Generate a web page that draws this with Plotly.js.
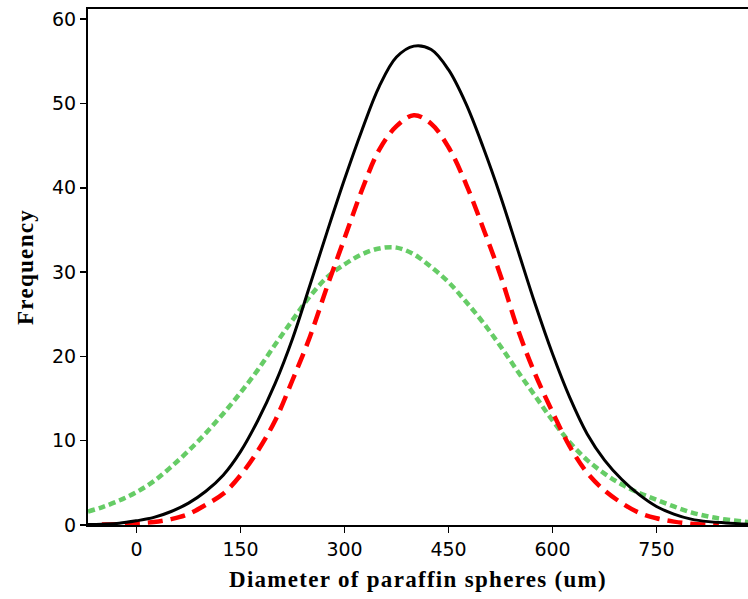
<!DOCTYPE html>
<html>
<head>
<meta charset="utf-8">
<script src="https://cdn.plot.ly/plotly-3.0.1.min.js"></script>
<style>
html,body{margin:0;padding:0;background:#fff;}
#chart{width:748px;height:599px;}
.xtitle,.ytitle{letter-spacing:1.3px;}
</style>
</head>
<body>
<div id="chart"></div>
<script>
// Diameter of paraffin spheres (um)
var diameter = [-70, -50, -25, 0, 25, 50, 75, 100, 125, 150, 175, 200, 225, 250, 275, 300, 325, 350, 375, 400, 425, 450, 475, 500, 525, 550, 575, 600, 625, 650, 675, 700, 725, 750, 775, 800, 825, 850, 882];

// Black solid curve
var freqBlack = [0.05, 0.1, 0.2, 0.5, 0.9, 1.6, 2.6, 4.0, 5.9, 8.7, 12.4, 16.8, 22.1, 28.4, 34.8, 41.0, 46.8, 52.0, 55.5, 56.8, 56.4, 54.0, 50.0, 44.8, 39.0, 32.6, 26.2, 20.3, 15.1, 10.8, 7.7, 5.4, 3.6, 2.2, 1.3, 0.7, 0.4, 0.25, 0.1];

// Red dashed curve
var diameterRed = [-50, -25, 0, 25, 50, 75, 100, 125, 150, 175, 200, 225, 250, 275, 300, 325, 350, 375, 400, 425, 450, 475, 500, 525, 550, 575, 600, 625, 650, 675, 700, 725, 750, 775, 800, 825, 840];
var freqRed = [0.05, 0.1, 0.2, 0.35, 0.7, 1.3, 2.4, 3.7, 5.9, 8.8, 12.4, 17.2, 22.3, 28.3, 34.0, 39.7, 44.5, 47.3, 48.6, 47.6, 44.8, 40.5, 35.2, 29.6, 23.2, 17.9, 13.4, 9.3, 6.2, 4.1, 2.6, 1.45, 0.8, 0.4, 0.15, 0.05, 0.02];

// Green dotted curve
var freqGreen = [1.6, 2.1, 2.9, 3.9, 5.2, 6.9, 8.8, 10.9, 13.2, 15.7, 18.4, 21.4, 24.3, 27.1, 29.4, 30.9, 32.1, 32.8, 32.9, 32.1, 30.6, 28.8, 26.5, 24.0, 21.2, 18.2, 15.3, 12.4, 9.8, 7.7, 6.1, 4.8, 3.8, 3.0, 2.2, 1.5, 1.0, 0.65, 0.35];

var xTickVals = [0, 150, 300, 450, 600, 750];
var yTickVals = [0, 10, 20, 30, 40, 50, 60];

var traces = [
  {x: diameter, y: freqGreen, mode: 'lines', line: {color: '#66cc66', width: 4.5, dash: '7px,4px', shape: 'spline'}, hoverinfo: 'skip'},
  {x: diameterRed, y: freqRed, mode: 'lines', line: {color: '#ff0000', width: 4.5, dash: '15px,8px', shape: 'spline'}, hoverinfo: 'skip'},
  {x: diameter, y: freqBlack, mode: 'lines', line: {color: '#000000', width: 3, shape: 'spline'}, hoverinfo: 'skip'}
];

var layout = {
  width: 748, height: 599,
  margin: {l: 88, r: 0, t: 9, b: 74},
  paper_bgcolor: '#ffffff', plot_bgcolor: '#ffffff',
  showlegend: false,
  font: {family: 'DejaVu Sans', size: 19, color: '#000'},
  xaxis: {
    range: [-70, 882], tickvals: xTickVals, ticktext: xTickVals.map(String),
    ticks: 'outside', ticklen: 6, tickwidth: 1.5, tickcolor: '#000',
    showline: true, linecolor: '#000', linewidth: 2, mirror: true,
    showgrid: false, zeroline: false,
    tickfont: {family: 'DejaVu Sans', size: 19, color: '#000'},
    title: {text: 'Diameter of paraffin spheres (um)', font: {family: 'Liberation Serif', size: 23, color: '#000', weight: 'bold'}, standoff: 12}
  },
  yaxis: {
    range: [0, 61.2], tickvals: yTickVals, ticktext: yTickVals.map(String),
    ticks: 'outside', ticklen: 6, tickwidth: 1.5, tickcolor: '#000',
    showline: true, linecolor: '#000', linewidth: 2, mirror: false,
    showgrid: false, zeroline: false,
    tickfont: {family: 'DejaVu Sans', size: 19, color: '#000'},
    title: {text: 'Frequency', font: {family: 'Liberation Serif', size: 23, color: '#000', weight: 'bold'}, standoff: 12}
  }
};

Plotly.newPlot('chart', traces, layout, {staticPlot: true, displayModeBar: false});
</script>
</body>
</html>
